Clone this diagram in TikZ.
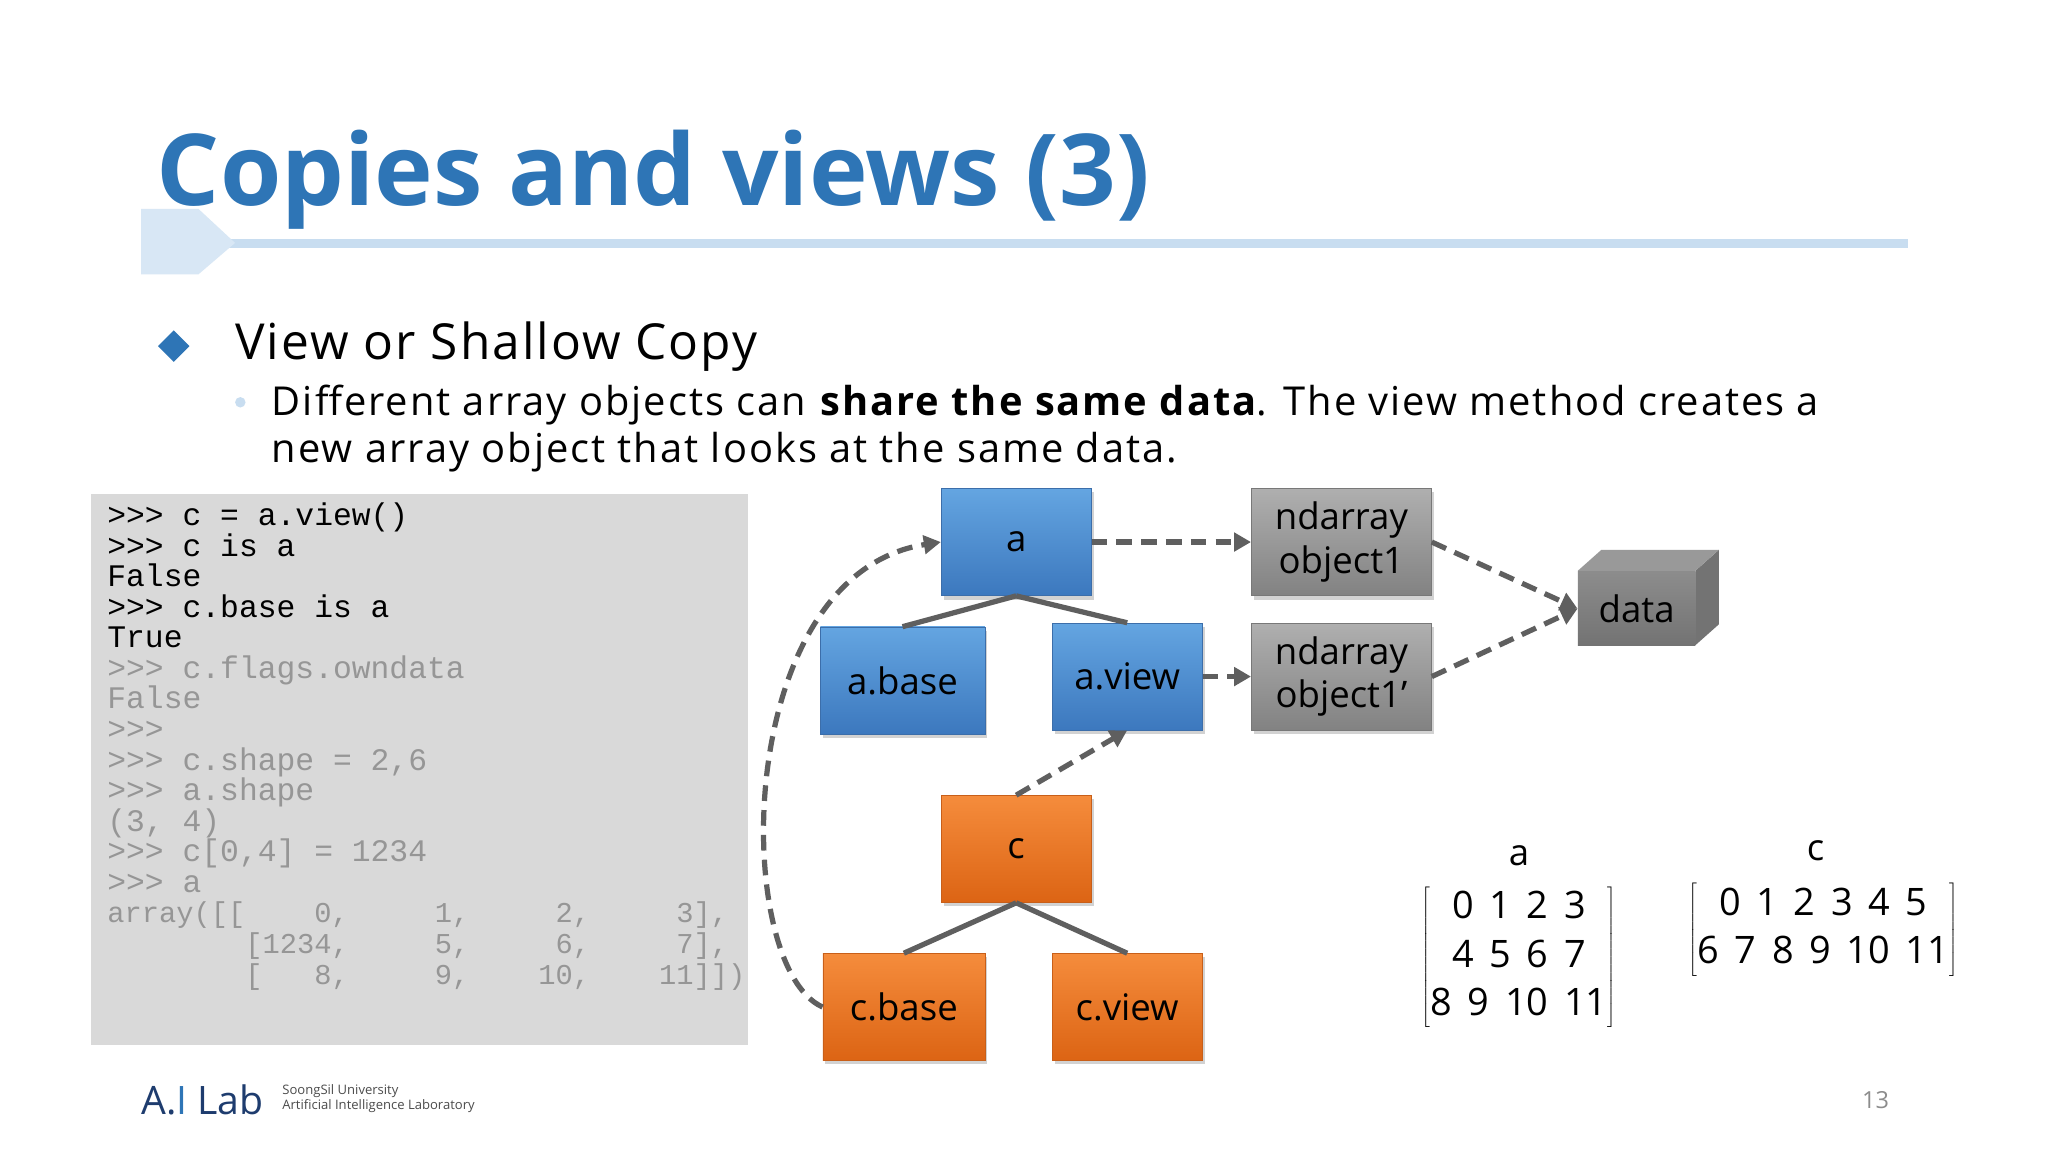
\documentclass[tikz,border=0pt]{standalone}
\usepackage{fontspec}
\setmainfont{Open Sans}
\setmonofont{Liberation Mono}
\usetikzlibrary{arrows.meta,shadows}
\definecolor{ttl}{RGB}{46,117,182}
\definecolor{lbar}{RGB}{200,221,240}
\definecolor{codebg}{RGB}{217,217,217}
\definecolor{cgray}{RGB}{150,150,150}
\tikzset{
 bx/.style={minimum width=#1, minimum height=82pt, inner sep=0pt, font=\fontsize{28}{32}\selectfont, drop shadow={shadow xshift=2pt,shadow yshift=-3pt,opacity=0.35}},
 bluebox/.style={bx=115pt, top color={rgb,255:red,100;green,165;blue,225}, bottom color={rgb,255:red,60;green,120;blue,190}, draw={rgb,255:red,60;green,110;blue,170}},
 orbox/.style={bx=115pt, top color={rgb,255:red,245;green,140;blue,60}, bottom color={rgb,255:red,220;green,100;blue,20}, draw={rgb,255:red,200;green,95;blue,25}},
 grbox/.style={bx=138pt, align=center, font=\fontsize{28}{33}\selectfont, top color={rgb,255:red,175;green,175;blue,175}, bottom color={rgb,255:red,130;green,130;blue,130}, draw={rgb,255:red,120;green,120;blue,120}},
 tr/.style={line width=4pt, draw={rgb,255:red,95;green,95;blue,95}},
 dsh/.style={line width=4pt, draw={rgb,255:red,95;green,95;blue,95}, dash pattern=on 12pt off 7pt, -{Triangle[length=13pt,width=14pt]}},
 cl/.style={anchor=base west, font=\fontsize{24}{24}\ttfamily, inner sep=0pt},
 al/.style={anchor=base west, font=\fontsize{22}{22}\ttfamily, inner sep=0pt, text=cgray},
 mtx/.style={font=\fontsize{29}{37}\selectfont, inner sep=0pt},
}
\begin{document}
\begin{tikzpicture}[x=1pt,y=-1pt]
\useasboundingbox (0,0) rectangle (1568,882);
\fill[white] (0,0) rectangle (1568,882);
% title
\node[anchor=base west, inner sep=0pt, text=ttl, font=\fontsize{76}{80}\selectfont\bfseries] (title) at (120,157) {Copies and views (3)};
\fill[lbar] (170,183) rectangle (1461,190);
\fill[lbar!70] (108,160) -- (152,160) -- (180,186) -- (152,210) -- (108,210) -- cycle;
% bullets
\fill[ttl] (133,253) -- (145,265) -- (133,277) -- (121,265) -- cycle;
\node[anchor=base west, inner sep=0pt, font=\fontsize{38}{40}\selectfont\addfontfeatures{LetterSpace=4}] (b1) at (180,275) {View or Shallow Copy};
\fill[lbar] (184,308) circle (4);
\node[anchor=base west, inner sep=0pt, font=\fontsize{30.5}{32}\selectfont\addfontfeatures{LetterSpace=5}] (b2) at (208,318) {Different array objects can \textbf{\addfontfeatures{LetterSpace=5}share the same data}. The view method creates a};
\node[anchor=base west, inner sep=0pt, font=\fontsize{30.5}{32}\selectfont\addfontfeatures{LetterSpace=5}] (b3) at (208,354) {new array object that looks at the same data.};
% code
\fill[codebg] (70,378) rectangle (573,800);
\foreach \t [count=\i] in {>>> c = a.view(),>>> c is a,False,>>> c.base is a,True}
  \node[cl] at (82,{379+23.4*\i}) {\t};
\foreach \t [count=\i from 6] in {>>> c.flags.owndata,False,>>>,>>> c.shape = 2{,}6,>>> a.shape,(3{,} 4),>>> c[0{,}4] = 1234,>>> a}
  \node[cl, text=cgray] at (82,{379+23.4*\i}) {\t};
\node[al] (r1) at (82,{379+23.4*14}) {array([[\ \ \ \ 0,\ \ \ \ \ 1,\ \ \ \ \ 2,\ \ \ \ \ 3],};
\node[al] (r2) at (82,{379+23.4*15}) {\ \ \ \ \ \ \ \ [1234,\ \ \ \ \ 5,\ \ \ \ \ 6,\ \ \ \ \ 7],};
\node[al] (r3) at (82,{379+23.4*16}) {\ \ \ \ \ \ \ \ [\ \ \ 8,\ \ \ \ \ 9,\ \ \ \ 10,\ \ \ \ 11]])};
% boxes
\node[bluebox] (a) at (778,415) {a};
\node[bluebox, minimum width=126pt] (ab) at (691,521) {a.base};
\node[bluebox] (av) at (863,518) {a.view};
\node[orbox] (c) at (778,650) {c};
\node[orbox, minimum width=124pt] (cb) at (692,771) {c.base};
\node[orbox] (cv) at (863,771) {c.view};
\node[grbox] (n1) at (1027,415) {ndarray\\object1};
\node[grbox] (n2) at (1027,518) {ndarray\\object1’};
% data 3D
\fill[black!55] (1298,437) -- (1316,421) -- (1316,478) -- (1298,494) -- cycle;
\fill[black!40] (1208,437) -- (1226,421) -- (1316,421) -- (1298,437) -- cycle;
\node[minimum width=90pt, minimum height=57pt, inner sep=0pt, top color=black!45, bottom color=black!55, font=\fontsize{28}{30}\selectfont] (data) at (1253,466) {data};
% tree lines
\draw[tr] (a.south) -- (ab.north);
\draw[tr] (a.south) -- (av.north);
\draw[tr] (c.south) -- (cb.north);
\draw[tr] (c.south) -- (cv.north);
% dashed
\draw[dsh] (a.east) -- (n1.west);
\draw[dsh] (av.east) -- (n2.west);
\draw[dsh] (n1.east) -- (data.west);
\draw[dsh] (n2.east) -- (data.west);
\draw[dsh] (c.north) -- (av.south);
\draw[dsh] (cb.west) .. controls (560,740) and (560,440) .. (a.west);
% matrices
\node[font=\fontsize{28}{30}\selectfont] (la) at (1163,655) {a};
\node[font=\fontsize{28}{30}\selectfont] (lc) at (1390,651) {c};
\node[mtx] (ma) at (1163,733) {$\left[\begin{tabular}{@{}c@{}}0\hspace{12pt}1\hspace{12pt}2\hspace{12pt}3\\4\hspace{12pt}5\hspace{12pt}6\hspace{12pt}7\\8\hspace{12pt}9\hspace{12pt}10\hspace{12pt}11\end{tabular}\right]$};
\node[mtx] (mc) at (1396,712) {$\left[\begin{tabular}{@{}c@{}}0\hspace{12pt}1\hspace{12pt}2\hspace{12pt}3\hspace{12pt}4\hspace{12pt}5\\6\hspace{12pt}7\hspace{12pt}8\hspace{12pt}9\hspace{12pt}10\hspace{12pt}11\end{tabular}\right]$};
% footer
\node[anchor=base west, inner sep=0pt, font=\fontsize{30}{32}\selectfont, text={rgb,255:red,30;green,60;blue,110}] (logo) at (108,853) {A.{\color{ttl}I} Lab};
\node[anchor=west, align=left, inner sep=0pt, font=\fontsize{10}{11}\selectfont, text=black!70] (logot) at (216,841) {SoongSil University\\Artificial Intelligence Laboratory};
\node[font=\fontsize{18}{18}\selectfont, text=black!45] (pg) at (1436,842) {13};
\end{tikzpicture}
\end{document}
